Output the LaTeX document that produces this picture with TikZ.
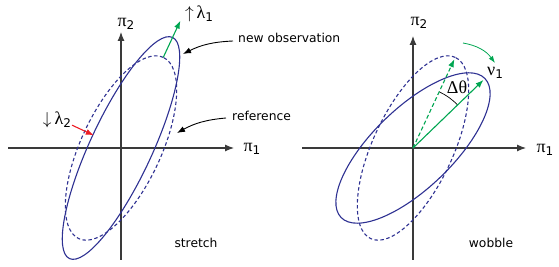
\documentclass[tikz,border=0pt]{standalone}
\usepackage{fontspec}
\setmainfont{DejaVu Sans}
\newfontfamily\grk{Liberation Serif}
\usetikzlibrary{arrows.meta}
\definecolor{ellblue}{HTML}{2E3192}
\definecolor{grn}{HTML}{00A651}
\definecolor{rd}{HTML}{ED1C24}
\definecolor{axgray}{HTML}{3A3A3A}
\newcommand{\gsym}[2]{{\grk #1}\raisebox{-0.3ex}{\fontsize{12}{13}\selectfont #2}}
\tikzset{
  axis/.style={draw=axgray, line width=1.1pt, -{Latex[length=9pt,width=7pt]}},
  solidell/.style={draw=ellblue, line width=1.1pt},
  dashell/.style={draw=ellblue, line width=1.1pt, dash pattern=on 3.5pt off 2.5pt},
  garrow/.style={draw=grn, line width=1.1pt, -{Latex[length=8pt,width=6pt]}},
  garrowdash/.style={draw=grn, line width=1.1pt, dash pattern=on 4pt off 2.5pt, -{Latex[length=8pt,width=6pt]}},
  thinarrow/.style={draw=black, line width=0.9pt, -{Latex[length=8pt,width=6pt]}},
  lbl/.style={font=\fontsize{12.3}{14}\selectfont, inner sep=0pt},
  glbl/.style={font=\fontsize{18}{20}\selectfont, inner sep=0pt},
}
\begin{document}
\begin{tikzpicture}[x=1pt,y=1pt]
\useasboundingbox (0,0) rectangle (559,267);
% ---------------- left panel: stretch ----------------
\coordinate (O1) at (121,119);
\coordinate (ax1w) at (8,119);
\coordinate (ax1e) at (234,119);
\coordinate (ax1s) at (121,7);
\coordinate (ax1n) at (121,235);
\draw[axis] (ax1w) -- (ax1e);
\draw[axis] (ax1s) -- (ax1n);
\node[glbl] (p2l) at (126,243) {\gsym{π}{2}};
\node[glbl] (p1l) at (252,118) {\gsym{π}{1}};
\begin{scope}[shift={(121,119)}]
  \draw[dashell, rotate=65] (0,0) ellipse [x radius=100, y radius=40];
  \draw[solidell, rotate=65] (0,0) ellipse [x radius=122, y radius=31];
  \coordinate (g1s) at (65:100);
  \coordinate (g1e) at (65:140.5);
  \coordinate (r1s) at (155:54);
  \coordinate (r1e) at (155:30);
\end{scope}
\draw[garrow] (g1s) -- (g1e);
\draw[draw=rd, line width=1.1pt, -{Latex[length=8pt,width=6pt]}] (r1s) -- (r1e);
\node[glbl] (l1) at (199,253) {$\uparrow$\hspace{3pt}\gsym{λ}{1}};
\node[glbl] (l2) at (57,147) {$\downarrow$\hspace{3pt}\gsym{λ}{2}};
\node[lbl, anchor=west] (newobs) at (238,229) {new observation};
\node[lbl, anchor=west] (ref) at (232,151) {reference};
\coordinate (newobsA) at (233,226);
\coordinate (newobsB) at (183,213);
\coordinate (refA) at (226,149);
\coordinate (refB) at (177,134);
\draw[thinarrow] (newobsA) to[bend right=12] (newobsB);
\draw[thinarrow] (refA) to[bend right=12] (refB);
\node[lbl] (stretch) at (196,24) {stretch};
% ---------------- right panel: wobble ----------------
\coordinate (O2) at (413,119);
\coordinate (ax2w) at (302,119);
\coordinate (ax2e) at (526,119);
\coordinate (ax2s) at (413,7);
\coordinate (ax2n) at (413,231);
\draw[axis] (ax2w) -- (ax2e);
\draw[axis] (ax2s) -- (ax2n);
\node[glbl] (p2r) at (419,244) {\gsym{π}{2}};
\node[glbl] (p1r) at (545,117) {\gsym{π}{1}};
\begin{scope}[shift={(413,119)}]
  \draw[dashell, rotate=65] (0,0) ellipse [x radius=100, y radius=40];
  \draw[solidell, rotate=44] (0,0) ellipse [x radius=100, y radius=40];
  \coordinate (gd) at (65:98);
  \coordinate (gs) at (44:98);
  \draw[line width=0.7pt] (65:62) arc[start angle=65, end angle=44, radius=62];
  \node[glbl] (dth) at (54:75) {\grk Δθ};
\end{scope}
\draw[garrowdash] (O2) -- (gd);
\draw[garrow] (O2) -- (gs);
\coordinate (cwA) at (463,224);
\coordinate (cwB) at (495,204);
\draw[draw=grn, line width=0.8pt, -{Latex[length=7pt,width=5pt]}] (cwA) to[bend left=22] (cwB);
\node[glbl] (v1) at (495,194) {\gsym{ν}{1}};
\node[lbl] (wobble) at (491,24) {wobble};
\end{tikzpicture}
\end{document}
